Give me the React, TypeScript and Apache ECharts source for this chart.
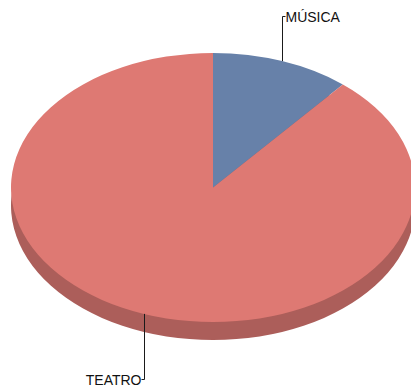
import React, { useEffect, useRef } from "react";
import * as echarts from "echarts";

const categories = ["MÚSICA", "TEATRO"];
const values = [1, 8];

const topColors = ["#6781A9", "#DE7973"];
const sideColors = ["#4E6387", "#AC5E5A"];

const CX = 213;
const CY = 187.5;
const RX = 202;
const RY = 134.5;
const DEPTH = 18;
const TOP_LABEL_Y = 16.5;
const BOTTOM_LABEL_Y = 379.5;

const total = values.reduce((a, b) => a + b, 0);

function sliceAngles(i: number) {
  let cum = 0;
  for (let k = 0; k < i; k++) cum += values[k];
  const start = -Math.PI / 2 + (cum / total) * Math.PI * 2;
  const end = start + (values[i] / total) * Math.PI * 2;
  return { start, end };
}

export default function App() {
  const ref = useRef<HTMLDivElement>(null);
  useEffect(() => {
    if (!ref.current) return;
    const chart = echarts.init(ref.current, undefined, { renderer: "svg" });
    const data = categories.map((name, i) => ({ name, value: values[i] }));

    const sideSeries = {
      type: "custom",
      coordinateSystem: "none",
      z: 1,
      data,
      renderItem: (params: any) => {
        const i = params.dataIndex;
        const { start, end } = sliceAngles(i);
        return {
          type: "group",
          x: CX,
          y: CY + DEPTH,
          scaleY: RY / RX,
          children: [
            {
              type: "sector",
              shape: { cx: 0, cy: 0, r: RX, r0: 0, startAngle: start, endAngle: end, clockwise: true },
              style: { fill: sideColors[i] },
            },
          ],
        };
      },
    };

    const topSeries = {
      type: "custom",
      coordinateSystem: "none",
      z: 2,
      data,
      renderItem: (params: any) => {
        const i = params.dataIndex;
        const { start, end } = sliceAngles(i);
        return {
          type: "group",
          x: CX,
          y: CY,
          scaleY: RY / RX,
          children: [
            {
              type: "sector",
              shape: { cx: 0, cy: 0, r: RX, r0: 0, startAngle: start, endAngle: end, clockwise: true },
              style: { fill: topColors[i] },
            },
          ],
        };
      },
    };

    const labelSeries = {
      type: "custom",
      coordinateSystem: "none",
      z: 3,
      data,
      renderItem: (params: any) => {
        const i = params.dataIndex;
        const { start, end } = sliceAngles(i);
        const mid = (start + end) / 2;
        const ax = Math.round(CX + RX * Math.cos(mid)) + 0.5;
        const ay = CY + RY * Math.sin(mid);
        const up = ay < CY;
        const ly = up ? TOP_LABEL_Y : BOTTOM_LABEL_Y;
        const hx = up ? ax + 3 : ax - 3;
        return {
          type: "group",
          children: [
            {
              type: "polyline",
              shape: { points: [[ax, ay], [ax, ly], [hx, ly]] },
              style: { stroke: "#1a1a1a", lineWidth: 1, fill: null },
            },
            {
              type: "text",
              x: up ? hx : hx,
              y: ly,
              style: {
                text: categories[i],
                font: "14px 'Liberation Sans', Arial, sans-serif",
                fill: "#111",
                align: up ? "left" : "right",
                verticalAlign: "middle",
              },
            },
          ],
        };
      },
    };

    chart.setOption({
      animation: false,
      backgroundColor: "#ffffff",
      series: [sideSeries, topSeries, labelSeries],
    });
    return () => chart.dispose();
  }, []);
  return <div ref={ref} style={{ position: "fixed", left: 0, top: 0, width: 411, height: 389 }} />;
}
